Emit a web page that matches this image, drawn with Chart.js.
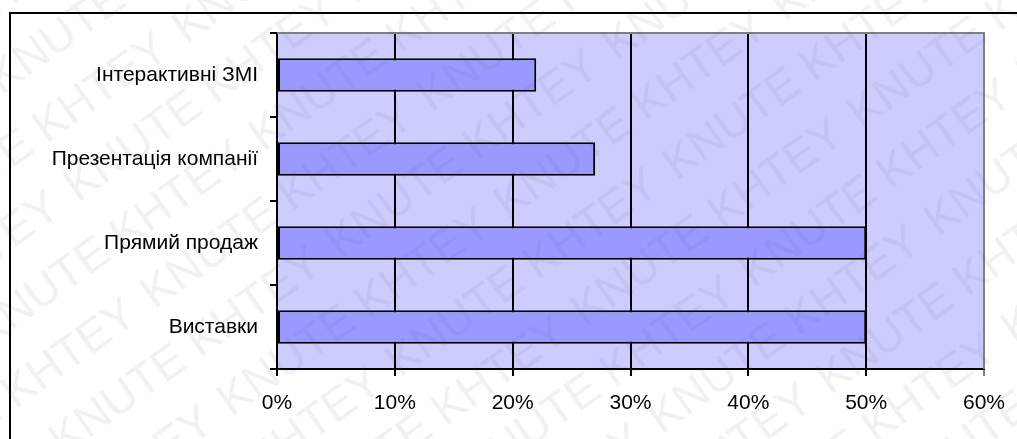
<!DOCTYPE html>
<html>
<head>
<meta charset="utf-8">
<script src="https://cdn.jsdelivr.net/npm/chart.js@4"></script>
<style>
  html, body { margin: 0; padding: 0; background: #fff; }
  #wrap { width: 1017px; height: 439px; }
</style>
</head>
<body>
<div id="wrap"><canvas id="chart"></canvas></div>
<script>
'use strict';

const categories = ['Інтерактивні ЗМІ', 'Презентація компанії', 'Прямий продаж', 'Виставки'];
const shares = [22, 27, 50, 50]; // percent
const xTicks = [0, 10, 20, 30, 40, 50, 60];

const frame = {
    id: 'frame',
    beforeDraw(chart) {
        const { ctx, chartArea: a } = chart;
        ctx.save();
        ctx.fillStyle = '#ccccff';
        ctx.fillRect(a.left, a.top, a.right - a.left, a.bottom - a.top);
        ctx.restore();
    },
    afterDatasetsDraw(chart) {
        const { ctx, chartArea: a } = chart;
        ctx.save();
        // grey plot border, top and right
        ctx.strokeStyle = '#808080';
        ctx.lineWidth = 2;
        ctx.beginPath();
        ctx.moveTo(a.left, a.top);
        ctx.lineTo(a.right, a.top);
        ctx.lineTo(a.right, a.bottom);
        ctx.stroke();
        // outer chart border
        ctx.strokeStyle = '#000';
        ctx.lineWidth = 2;
        ctx.strokeRect(10, 13, 1030, 460);
        ctx.restore();
    },
    afterDraw(chart) {
        // watermark
        const { ctx } = chart;
        ctx.save();
        ctx.font = '46px "Liberation Sans", Arial, sans-serif';
        ctx.fillStyle = 'rgba(80, 80, 100, 0.08)';
        ctx.translate(508, 220);
        ctx.rotate(-0.62);
        for (let row = -8; row <= 8; row++) {
            for (let col = -4; col <= 4; col++) {
                ctx.fillText('KNUTE KHTEY', col * 340 + (row % 2) * 160, row * 66);
            }
        }
        ctx.restore();
    }
};

new Chart(document.getElementById('chart'), {
    type: 'bar',
    data: {
        labels: categories,
        datasets: [{
            data: shares,
            backgroundColor: '#9999ff',
            borderColor: '#000',
            borderWidth: 2,
            borderSkipped: false,
            barPercentage: 0.4,
            categoryPercentage: 1
        }]
    },
    options: {
        indexAxis: 'y',
        responsive: true,
        maintainAspectRatio: false,
        animation: false,
        layout: { padding: { left: 0, top: 33, right: 33, bottom: 0 } },
        scales: {
            x: {
                min: 0,
                max: 60,
                afterBuildTicks(scale) {
                    scale.ticks = xTicks.map(v => ({ value: v }));
                },
                afterFit(scale) {
                    scale.height = 70;
                    scale.paddingLeft = 0;
                    scale.paddingRight = 0;
                },
                ticks: {
                    callback: v => v + '%',
                    color: '#000',
                    padding: 15,
                    font: { family: '"Liberation Sans", Arial, sans-serif', size: 21 }
                },
                grid: {
                    color: ctx => ctx.tick && ctx.tick.value === 60 ? '#808080' : '#000',
                    lineWidth: 2,
                    tickLength: 7
                },
                border: { display: true, color: '#000', width: 2 }
            },
            y: {
                afterFit(scale) { scale.width = 277; },
                ticks: {
                    color: '#000',
                    padding: 12,
                    font: { family: '"Liberation Sans", Arial, sans-serif', size: 21 }
                },
                grid: {
                    offset: true,
                    drawOnChartArea: false,
                    color: '#000',
                    lineWidth: 2,
                    tickLength: 7
                },
                border: { display: true, color: '#000', width: 2 }
            }
        },
        plugins: {
            legend: { display: false },
            tooltip: { enabled: false }
        }
    },
    plugins: [frame]
});
</script>
</body>
</html>
